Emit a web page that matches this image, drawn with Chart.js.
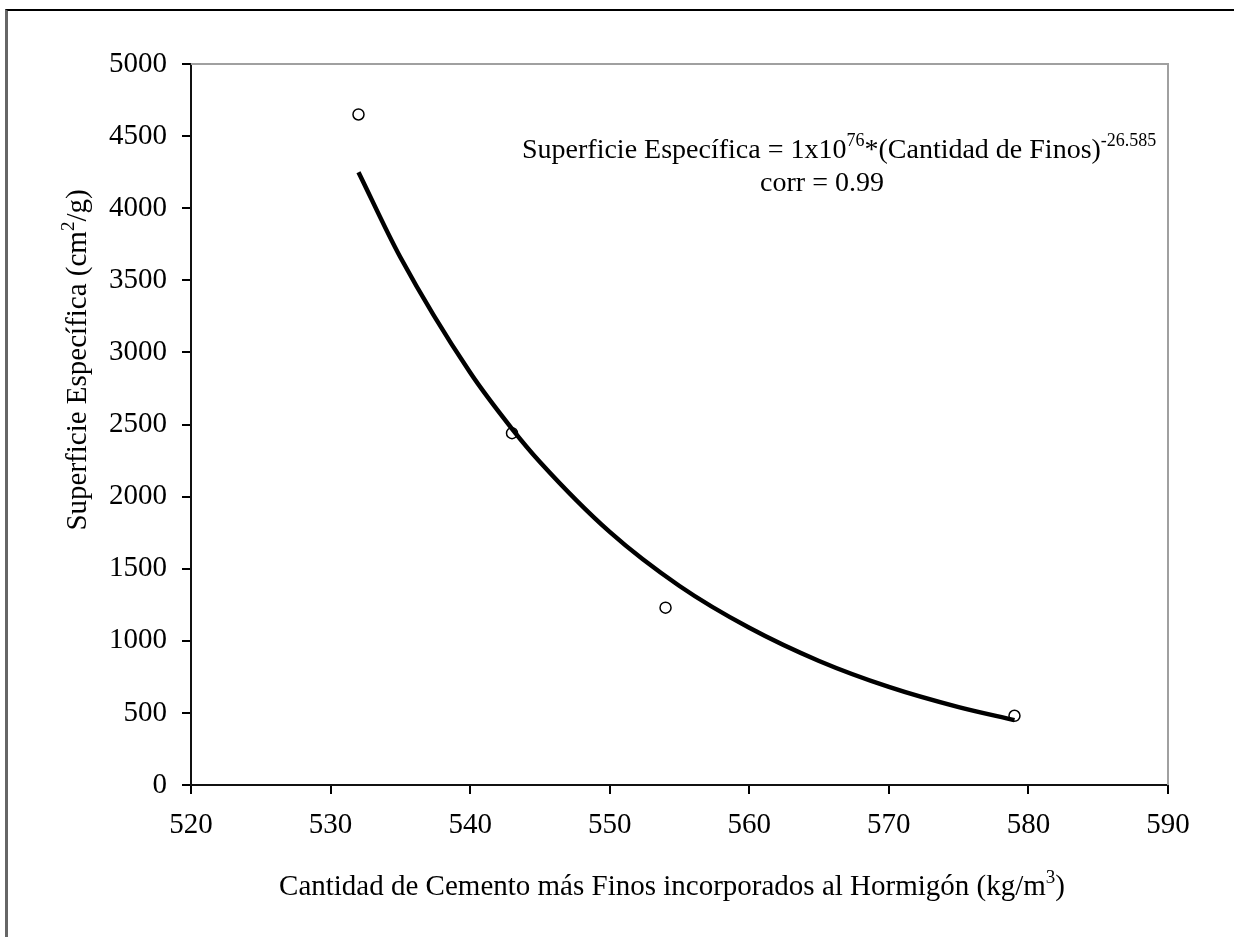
<!DOCTYPE html>
<html>
<head>
<meta charset="utf-8">
<script src="https://cdn.jsdelivr.net/npm/chart.js@4.4.1/dist/chart.umd.min.js"></script>
<style>
  html, body { margin: 0; padding: 0; background: #fff; }
  #wrap { position: relative; width: 1234px; height: 937px; }
  #frame { position: absolute; left: 5px; top: 9px; width: 1226px; height: 940px;
           border-top: 2px solid #000; border-right: 2px solid #000; border-left: 3px solid #666; }
  canvas { position: absolute; left: 0; top: 0; }
</style>
</head>
<body>
<div id="wrap">
  <div id="frame"></div>
  <canvas id="chartCanvas" width="1234" height="937"></canvas>
</div>
<script>
// measured points
const finos = [532, 543, 554, 579];
const superficie = [4650, 2440, 1230, 480];

// trend line
const curveX = [532, 535, 540, 543, 545, 550, 555, 560, 565, 570, 575, 579];
const curveY = [4250, 3660, 2860, 2470, 2240, 1755, 1380, 1090, 860, 680, 540, 450];

const xTicks = [520, 530, 540, 550, 560, 570, 580, 590];
const yTicks = [0, 500, 1000, 1500, 2000, 2500, 3000, 3500, 4000, 4500, 5000];

const serif = "'Liberation Serif', 'Times New Roman', serif";

// plot box edges in the picture
const box = { left: 191, top: 64, right: 1168, bottom: 785 };

// draw text pieces, some of them raised as superscripts
function drawRuns(ctx, runs, x, y) {
  runs.forEach(r => {
    ctx.font = r[1] + 'px ' + serif;
    ctx.fillText(r[0], x, y + r[2]);
    x += ctx.measureText(r[0]).width;
  });
  return x;
}
function runsWidth(ctx, runs) {
  let w = 0;
  runs.forEach(r => {
    ctx.font = r[1] + 'px ' + serif;
    w += ctx.measureText(r[0]).width;
  });
  return w;
}

const framePlugin = {
  id: 'frame',
  afterDraw(chart) {
    const { ctx, chartArea: a } = chart;
    ctx.save();
    ctx.strokeStyle = '#a0a0a0';
    ctx.lineWidth = 2;
    ctx.beginPath();
    ctx.moveTo(a.left, a.top);
    ctx.lineTo(a.right, a.top);
    ctx.lineTo(a.right, a.bottom);
    ctx.stroke();

    ctx.fillStyle = '#000';
    ctx.textBaseline = 'alphabetic';
    ctx.textAlign = 'left';

    // equation
    const eq = [
      ['Superficie Específica = 1x10', 28, 0],
      ['76', 18, -12],
      ['*(Cantidad de Finos)', 28, 0],
      ['-26.585', 18, -12]
    ];
    drawRuns(ctx, eq, 522, 158);
    ctx.font = '28px ' + serif;
    ctx.textAlign = 'center';
    ctx.fillText('corr = 0.99', 822, 191);
    ctx.textAlign = 'left';

    // x axis title
    const xt = [
      ['Cantidad de Cemento más Finos incorporados al Hormigón (kg/m', 29, 0],
      ['3', 19, -12],
      [')', 29, 0]
    ];
    const xw = runsWidth(ctx, xt);
    drawRuns(ctx, xt, 672 - xw / 2, 895);

    // y axis title
    const yt = [
      ['Superficie Específica (cm', 29, 0],
      ['2', 19, -12],
      ['/g)', 29, 0]
    ];
    const yw = runsWidth(ctx, yt);
    ctx.translate(86, 360);
    ctx.rotate(-Math.PI / 2);
    drawRuns(ctx, yt, -yw / 2, 0);
    ctx.restore();
  }
};

const ctx = document.getElementById('chartCanvas').getContext('2d');
new Chart(ctx, {
  type: 'scatter',
  data: {
    datasets: [
      {
        label: 'ajuste',
        data: curveX.map((v, i) => ({ x: v, y: curveY[i] })),
        showLine: true,
        borderColor: '#000',
        borderWidth: 4.5,
        pointRadius: 0,
        cubicInterpolationMode: 'monotone',
        fill: false
      },
      {
        label: 'datos',
        data: finos.map((v, i) => ({ x: v, y: superficie[i] })),
        showLine: false,
        pointStyle: 'circle',
        pointRadius: 5.5,
        pointBorderWidth: 1.5,
        pointBorderColor: '#000',
        pointBackgroundColor: '#fff'
      }
    ]
  },
  plugins: [framePlugin],
  options: {
    responsive: false,
    animation: false,
    layout: { padding: { left: 0, top: box.top, right: 1234 - box.right, bottom: 0 } },
    plugins: { legend: { display: false }, tooltip: { enabled: false } },
    scales: {
      x: {
        type: 'linear',
        position: 'bottom',
        min: 520,
        max: 590,
        afterBuildTicks: s => { s.ticks = xTicks.map(v => ({ value: v })); },
        afterFit: s => { s.height = 937 - box.bottom; },
        grid: { drawOnChartArea: false, drawTicks: true, tickLength: 9, color: '#000', lineWidth: 2 },
        border: { color: '#111', width: 2 },
        ticks: { color: '#000', font: { family: serif, size: 29 }, padding: 14, callback: v => String(v) }
      },
      y: {
        type: 'linear',
        min: 0,
        max: 5000,
        afterBuildTicks: s => { s.ticks = yTicks.map(v => ({ value: v })); },
        afterFit: s => { s.width = box.left; },
        grid: { drawOnChartArea: false, drawTicks: true, tickLength: 9, color: '#000', lineWidth: 2 },
        border: { color: '#111', width: 2 },
        ticks: { color: '#000', font: { family: serif, size: 29 }, padding: 15, callback: v => String(v) }
      }
    }
  }
});
</script>
</body>
</html>
